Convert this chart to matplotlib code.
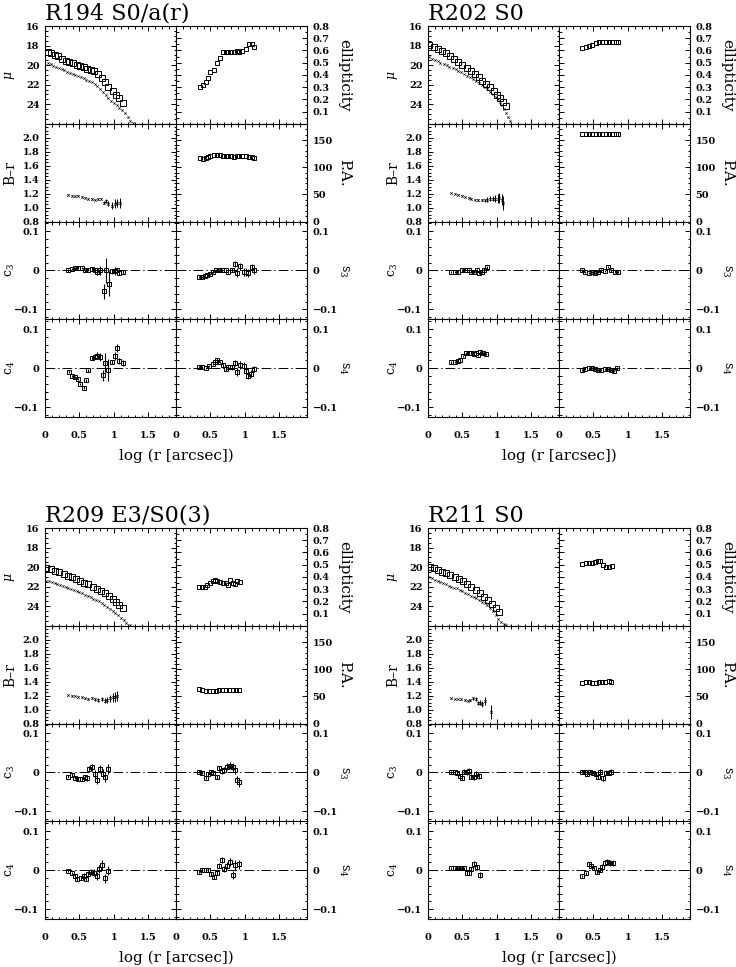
import matplotlib
matplotlib.use("Agg")
import matplotlib.pyplot as plt

plt.rcParams['font.family'] = ['DejaVu Serif']
plt.rcParams['mathtext.fontset'] = 'dejavuserif'
plt.rcParams['axes.linewidth'] = 0.8

FIG_W, FIG_H = 736, 967
PW, PH = 131, 97.75

# ---------------------------------------------------------------- R194
r194_mu_r_x = [0.04, 0.09, 0.14, 0.19, 0.25, 0.30, 0.35, 0.40, 0.46, 0.51, 0.56,
               0.61, 0.66, 0.71, 0.77, 0.82, 0.87, 0.92, 0.98, 1.03, 1.08, 1.135]
r194_mu_r = [18.62, 18.79, 18.94, 19.12, 19.38, 19.56, 19.67, 19.79, 19.94, 20.08, 20.21,
             20.35, 20.48, 20.64, 20.90, 21.27, 21.78, 22.20, 22.62, 23.02, 23.38, 23.86]
r194_mu_b_x = [0.04, 0.08, 0.12, 0.16, 0.20, 0.24, 0.28, 0.32, 0.36, 0.40, 0.44, 0.48, 0.52,
               0.56, 0.60, 0.64, 0.68, 0.72, 0.76, 0.80, 0.84, 0.88, 0.92, 0.96, 1.00, 1.04,
               1.08, 1.12, 1.16, 1.20, 1.24, 1.27]
r194_mu_b = [19.74, 19.92, 20.08, 20.20, 20.30, 20.42, 20.55, 20.68, 20.80, 20.90, 21.01, 21.12, 21.24,
             21.36, 21.51, 21.62, 21.73, 21.90, 22.15, 22.45, 22.78, 23.08, 23.35, 23.65, 23.88, 24.12,
             24.35, 24.62, 24.95, 25.35, 25.70, 25.97]
r194_iso_x = [0.35, 0.39, 0.43, 0.47, 0.50, 0.55, 0.59, 0.64, 0.68, 0.72,
              0.76, 0.80, 0.84, 0.88, 0.92, 0.96, 1.01, 1.06, 1.10, 1.135]
r194_ell = [0.302, 0.32, 0.339, 0.374, 0.42, 0.439, 0.496, 0.541, 0.59, 0.59,
            0.59, 0.59, 0.59, 0.592, 0.59, 0.595, 0.611, 0.649, 0.649, 0.63]
r194_pa = [116.3, 115.1, 116.9, 119.4, 121.2, 121.8, 121.8, 121.8, 121.2, 120.6,
           120.0, 120.0, 119.4, 120.0, 120.0, 120.0, 120.0, 119.4, 118.8, 117.6]
r194_br_x = [0.34, 0.39, 0.44, 0.48, 0.53, 0.58, 0.63, 0.68, 0.73, 0.77, 0.81, 0.85, 0.88,
             0.92, 0.97, 1.01, 1.05, 1.09]
r194_br = [1.186, 1.171, 1.162, 1.171, 1.152, 1.138, 1.129, 1.124, 1.114, 1.124, 1.129, 1.067, 1.09,
           1.057, 1.029, 1.057, 1.067, 1.07]
r194_br_err = [0.008, 0.008, 0.008, 0.008, 0.008, 0.008, 0.008, 0.01, 0.01, 0.01, 0.012, 0.02, 0.03,
               0.04, 0.05, 0.06, 0.06, 0.07]
r194_c3_x = [0.34, 0.39, 0.44, 0.48, 0.53, 0.58, 0.63, 0.68, 0.73, 0.76, 0.80, 0.85, 0.88,
             0.93, 0.97, 1.01, 1.05, 1.07, 1.13]
r194_c3 = [0.0, 0.003, 0.005, 0.007, 0.006, 0.0, 0.002, 0.004, 0.0, -0.003, 0.0, -0.054, 0.0,
           -0.034, -0.002, -0.002, 0.0, -0.006, -0.004]
r194_c3_err = [0.003, 0.003, 0.003, 0.003, 0.003, 0.003, 0.003, 0.004, 0.005, 0.008, 0.012, 0.018,
               0.032, 0.032, 0.006, 0.01, 0.006, 0.006, 0.006]
r194_s3_x = [0.34, 0.38, 0.42, 0.45, 0.49, 0.54, 0.58, 0.63, 0.67, 0.72, 0.76, 0.81, 0.86,
             0.89, 0.93, 0.98, 1.01, 1.05, 1.10, 1.13]
r194_s3 = [-0.017, -0.017, -0.015, -0.011, -0.009, -0.003, 0.0, 0.0, 0.0, 0.0, -0.003, 0.0, 0.017,
           -0.006, 0.01, -0.004, -0.004, -0.007, 0.009, 0.0]
r194_s3_err = [0.003, 0.003, 0.003, 0.003, 0.003, 0.003, 0.003, 0.003, 0.003, 0.004, 0.004, 0.005,
               0.008, 0.012, 0.01, 0.01, 0.01, 0.01, 0.008, 0.008]
r194_c4_x = [0.35, 0.39, 0.44, 0.48, 0.51, 0.56, 0.59, 0.63, 0.68, 0.73, 0.76, 0.80, 0.84,
             0.87, 0.92, 0.97, 1.01, 1.05, 1.07, 1.13]
r194_c4 = [-0.009, -0.02, -0.022, -0.028, -0.041, -0.05, -0.031, -0.005, 0.025, 0.029, 0.032, 0.029,
           -0.018, 0.014, -0.005, 0.016, 0.032, 0.052, 0.019, 0.014]
r194_c4_err = [0.003, 0.003, 0.003, 0.003, 0.003, 0.004, 0.004, 0.004, 0.005, 0.006, 0.008, 0.01,
               0.014, 0.025, 0.028, 0.006, 0.01, 0.01, 0.008, 0.008]
r194_s4_x = [0.34, 0.38, 0.43, 0.48, 0.53, 0.57, 0.60, 0.64, 0.68, 0.73, 0.76, 0.81, 0.86,
             0.89, 0.93, 0.98, 1.01, 1.05, 1.09, 1.13]
r194_s4 = [0.003, 0.003, 0.001, 0.005, 0.010, 0.016, 0.022, 0.016, 0.008, -0.003, 0.002, 0.002,
           0.014, -0.009, 0.009, 0.006, -0.007, -0.020, -0.014, -0.003]
r194_s4_err = [0.003, 0.003, 0.003, 0.003, 0.003, 0.003, 0.003, 0.003, 0.004, 0.004, 0.005, 0.006,
               0.008, 0.01, 0.01, 0.01, 0.01, 0.008, 0.008, 0.008]

# ---------------------------------------------------------------- R202
r202_mu_r_x = [0.02, 0.08, 0.14, 0.20, 0.26, 0.32, 0.38, 0.44, 0.50, 0.56, 0.62,
               0.68, 0.74, 0.79, 0.84, 0.90, 0.95, 1.00, 1.04, 1.09, 1.13]
r202_mu_r = [17.94, 18.11, 18.31, 18.55, 18.79, 19.06, 19.33, 19.64, 19.95, 20.25, 20.56,
             20.90, 21.24, 21.58, 21.92, 22.29, 22.63, 23.01, 23.38, 23.76, 24.16]
r202_mu_b_x = [0.02, 0.06, 0.10, 0.14, 0.18, 0.23, 0.27, 0.31, 0.36, 0.40, 0.44, 0.48, 0.52,
               0.57, 0.61, 0.65, 0.70, 0.74, 0.78, 0.82, 0.86, 0.90, 0.94, 0.98, 1.01, 1.04,
               1.07, 1.10, 1.13, 1.16, 1.19]
r202_mu_b = [19.20, 19.33, 19.47, 19.60, 19.74, 19.88, 20.01, 20.17, 20.32, 20.45, 20.59, 20.74, 20.90,
             21.07, 21.24, 21.42, 21.61, 21.81, 22.02, 22.24, 22.46, 22.71, 22.97, 23.23, 23.48, 23.77,
             24.06, 24.48, 24.91, 25.33, 25.76]
r202_iso_x = [0.34, 0.39, 0.44, 0.48, 0.53, 0.58, 0.63, 0.68, 0.73, 0.77, 0.82, 0.86]
r202_ell = [0.617, 0.625, 0.638, 0.646, 0.657, 0.665, 0.671, 0.673, 0.673, 0.673, 0.673, 0.673]
r202_pa = [161, 161, 161, 161, 161, 161, 161, 161, 161, 161, 161, 161]
r202_br_x = [0.34, 0.39, 0.44, 0.49, 0.54, 0.59, 0.63, 0.68, 0.73, 0.78, 0.83, 0.86, 0.90,
             0.94, 0.97, 1.01, 1.03, 1.07, 1.09]
r202_br = [1.21, 1.20, 1.186, 1.171, 1.152, 1.138, 1.129, 1.114, 1.11, 1.105, 1.105, 1.114, 1.124,
           1.129, 1.129, 1.129, 1.133, 1.114, 1.06]
r202_br_err = [0.005, 0.005, 0.005, 0.006, 0.006, 0.007, 0.008, 0.01, 0.012, 0.015, 0.02, 0.03, 0.035,
               0.04, 0.05, 0.06, 0.07, 0.08, 0.1]
r202_c3_x = [0.34, 0.39, 0.44, 0.49, 0.54, 0.59, 0.62, 0.66, 0.71, 0.74, 0.78, 0.81, 0.85]
r202_c3 = [-0.004, -0.004, -0.003, 0.0, 0.002, 0.0, -0.004, -0.003, 0.0, -0.006, -0.003, 0.002, 0.008]
r202_c3_err = [0.003, 0.003, 0.003, 0.003, 0.003, 0.003, 0.003, 0.003, 0.003, 0.004, 0.004, 0.004, 0.004]
r202_s3_x = [0.34, 0.38, 0.43, 0.48, 0.52, 0.57, 0.61, 0.66, 0.71, 0.76, 0.81, 0.86]
r202_s3 = [0.0, -0.004, -0.006, -0.004, -0.006, -0.003, 0.0, -0.002, 0.008, 0.0, -0.003, -0.004]
r202_s3_err = [0.003, 0.003, 0.003, 0.003, 0.003, 0.003, 0.003, 0.003, 0.003, 0.003, 0.003, 0.003]
r202_c4_x = [0.34, 0.39, 0.43, 0.46, 0.51, 0.55, 0.59, 0.62, 0.66, 0.70, 0.73, 0.76, 0.80, 0.84]
r202_c4 = [0.0145, 0.016, 0.019, 0.0205, 0.031, 0.0376, 0.039, 0.0376, 0.036, 0.039, 0.033, 0.041,
           0.0376, 0.036]
r202_c4_err = [0.003, 0.003, 0.003, 0.003, 0.003, 0.003, 0.003, 0.003, 0.003, 0.003, 0.003, 0.003,
               0.003, 0.003]
r202_s4_x = [0.34, 0.38, 0.43, 0.48, 0.52, 0.57, 0.61, 0.66, 0.71, 0.76, 0.80, 0.84]
r202_s4 = [-0.005, -0.0026, -0.0009, 0.0009, -0.0026, -0.005, -0.005, -0.0017, -0.0026, -0.005,
           -0.0068, -0.0009]
r202_s4_err = [0.003, 0.003, 0.003, 0.003, 0.003, 0.003, 0.003, 0.003, 0.003, 0.003, 0.003, 0.003]

# ---------------------------------------------------------------- R209
r209_mu_r_x = [0.02, 0.08, 0.15, 0.21, 0.27, 0.33, 0.39, 0.45, 0.51, 0.57, 0.63,
               0.69, 0.75, 0.81, 0.87, 0.93, 0.98, 1.03, 1.08, 1.135]
r209_mu_r = [20.13, 20.23, 20.37, 20.54, 20.71, 20.88, 21.05, 21.22, 21.39, 21.59, 21.76,
             22.00, 22.21, 22.44, 22.68, 22.96, 23.23, 23.54, 23.88, 24.15]
r209_mu_b_x = [0.02, 0.06, 0.10, 0.14, 0.18, 0.22, 0.26, 0.30, 0.34, 0.38, 0.42, 0.46, 0.50,
               0.54, 0.58, 0.62, 0.66, 0.70, 0.74, 0.78, 0.82, 0.86, 0.90, 0.94, 0.98, 1.02,
               1.06, 1.10, 1.14, 1.18, 1.23]
r209_mu_b = [21.39, 21.47, 21.54, 21.64, 21.74, 21.83, 21.93, 22.02, 22.12, 22.23, 22.34, 22.45, 22.59,
             22.70, 22.81, 22.92, 23.05, 23.23, 23.36, 23.50, 23.67, 23.88, 24.08, 24.30, 24.45, 24.68,
             24.91, 25.18, 25.42, 25.69, 25.92]
r209_ell_x = [0.33, 0.37, 0.42, 0.45, 0.49, 0.53, 0.57, 0.60, 0.64, 0.68, 0.72, 0.75, 0.79,
              0.82, 0.86, 0.89, 0.93]
r209_ell = [0.314, 0.314, 0.314, 0.333, 0.353, 0.369, 0.374, 0.369, 0.361, 0.353, 0.347, 0.333, 0.374,
            0.353, 0.342, 0.366, 0.361]
r209_pa_x = [0.33, 0.38, 0.43, 0.48, 0.53, 0.58, 0.62, 0.67, 0.72, 0.77, 0.82, 0.87, 0.91]
r209_pa = [62.9, 61.7, 60.5, 59.9, 60.5, 59.9, 61.1, 61.7, 61.7, 62.3, 62.3, 62.3, 62.3]
r209_br_x = [0.34, 0.39, 0.44, 0.48, 0.53, 0.58, 0.63, 0.68, 0.72, 0.77, 0.82, 0.87, 0.90,
             0.94, 0.98, 1.01, 1.04]
r209_br = [1.208, 1.199, 1.194, 1.184, 1.175, 1.161, 1.151, 1.161, 1.146, 1.137, 1.146, 1.127, 1.137,
           1.161, 1.175, 1.184, 1.194]
r209_br_err = [0.006, 0.006, 0.006, 0.007, 0.008, 0.01, 0.012, 0.015, 0.02, 0.025, 0.03, 0.035, 0.04,
               0.05, 0.06, 0.07, 0.075]
r209_c3_x = [0.34, 0.39, 0.44, 0.48, 0.53, 0.58, 0.61, 0.64, 0.68, 0.73, 0.76, 0.80, 0.84, 0.87, 0.92]
r209_c3 = [-0.011, -0.0066, -0.0135, -0.0177, -0.0177, -0.0126, -0.015, 0.0078, 0.013, -0.004,
           -0.0194, 0.0087, -0.004, -0.0126, 0.0087]
r209_c3_err = [0.004, 0.004, 0.004, 0.005, 0.005, 0.006, 0.007, 0.008, 0.009, 0.01, 0.01, 0.011,
               0.012, 0.012, 0.012]
r209_s3_x = [0.33, 0.38, 0.43, 0.47, 0.51, 0.54, 0.59, 0.63, 0.67, 0.70, 0.74, 0.78, 0.82,
             0.86, 0.89, 0.92]
r209_s3 = [0.0019, -0.0007, -0.0135, -0.004, 0.0019, -0.0007, -0.011, 0.0104, 0.0036, 0.0061,
           0.0147, 0.0164, 0.0147, 0.0061, -0.0194, -0.0254]
r209_s3_err = [0.004, 0.004, 0.004, 0.004, 0.005, 0.005, 0.005, 0.006, 0.007, 0.008, 0.008, 0.009,
               0.01, 0.01, 0.01, 0.012]
r209_c4_x = [0.34, 0.39, 0.44, 0.47, 0.52, 0.56, 0.59, 0.63, 0.67, 0.71, 0.75, 0.79, 0.83, 0.87, 0.92]
r209_c4 = [-0.0015, -0.0083, -0.0142, -0.0236, -0.021, -0.0142, -0.0228, -0.01, -0.004, -0.0066,
           -0.0142, 0.002, 0.013, -0.021, -0.0015]
r209_c4_err = [0.004, 0.004, 0.004, 0.005, 0.005, 0.006, 0.006, 0.007, 0.008, 0.009, 0.01, 0.01,
               0.012, 0.012, 0.012]
r209_s4_x = [0.33, 0.38, 0.43, 0.47, 0.51, 0.55, 0.59, 0.63, 0.67, 0.70, 0.74, 0.78, 0.82, 0.86, 0.91]
r209_s4 = [-0.004, 0.0003, 0.0003, 0.0003, -0.01, -0.0185, -0.0066, 0.0113, 0.0258, 0.002, 0.0113,
           0.0216, -0.0125, 0.013, 0.0147]
r209_s4_err = [0.004, 0.004, 0.004, 0.004, 0.005, 0.005, 0.006, 0.007, 0.008, 0.008, 0.009, 0.01,
               0.01, 0.012, 0.012]

# ---------------------------------------------------------------- R211
r211_mu_r_x = [0.025, 0.083, 0.145, 0.208, 0.266, 0.324, 0.387, 0.445, 0.508, 0.566, 0.628,
               0.691, 0.749, 0.807, 0.87, 0.928, 0.981, 1.029]
r211_mu_r = [20.02, 20.13, 20.30, 20.47, 20.64, 20.81, 20.98, 21.18, 21.42, 21.73, 22.00,
             22.34, 22.68, 23.02, 23.37, 23.77, 24.15, 24.56]
r211_mu_b_x = [0.02, 0.06, 0.10, 0.14, 0.18, 0.22, 0.26, 0.30, 0.34, 0.38, 0.42, 0.46, 0.50,
               0.54, 0.58, 0.62, 0.66, 0.70, 0.74, 0.78, 0.82, 0.86, 0.90, 0.94, 0.98, 1.02,
               1.06, 1.10, 1.13]
r211_mu_b = [21.05, 21.16, 21.27, 21.40, 21.52, 21.66, 21.77, 21.90, 22.00, 22.10, 22.17, 22.30, 22.47,
             22.64, 22.78, 22.92, 23.06, 23.20, 23.36, 23.52, 23.68, 23.90, 24.18, 24.50, 24.95, 25.30,
             25.60, 25.80, 25.95]
r211_ell_x = [0.34, 0.39, 0.435, 0.474, 0.517, 0.565, 0.60, 0.638, 0.681, 0.72, 0.764]
r211_ell = [0.505, 0.511, 0.511, 0.516, 0.519, 0.53, 0.53, 0.497, 0.483, 0.478, 0.489]
r211_pa_x = [0.34, 0.39, 0.43, 0.48, 0.53, 0.58, 0.63, 0.67, 0.72, 0.76]
r211_pa = [75.2, 75.8, 75.8, 75.2, 75.2, 75.8, 76.4, 77.0, 77.7, 77.0]
r211_br_x = [0.34, 0.39, 0.44, 0.48, 0.53, 0.58, 0.61, 0.65, 0.69, 0.73, 0.76, 0.79, 0.82, 0.92]
r211_br = [1.16, 1.151, 1.151, 1.146, 1.137, 1.127, 1.137, 1.16, 1.15, 1.09, 1.10, 1.08, 1.12, 0.97]
r211_br_err = [0.006, 0.006, 0.006, 0.007, 0.008, 0.009, 0.01, 0.02, 0.03, 0.03, 0.04, 0.04, 0.06, 0.1]
r211_c3_x = [0.34, 0.39, 0.42, 0.46, 0.49, 0.52, 0.56, 0.60, 0.63, 0.67, 0.70, 0.74]
r211_c3 = [0.0, 0.0, -0.0024, -0.0092, -0.0135, 0.0019, 0.0, 0.0036, -0.011, -0.011, -0.004, -0.0092]
r211_c3_err = [0.003, 0.003, 0.004, 0.005, 0.006, 0.006, 0.006, 0.007, 0.007, 0.008, 0.008, 0.008]
r211_s3_x = [0.34, 0.37, 0.41, 0.45, 0.49, 0.53, 0.57, 0.60, 0.64, 0.68, 0.72, 0.75]
r211_s3 = [0.0019, 0.0019, -0.005, 0.0019, -0.0007, -0.005, -0.011, 0.0019, -0.015, -0.0007,
           -0.0007, 0.001]
r211_s3_err = [0.003, 0.003, 0.003, 0.004, 0.004, 0.005, 0.005, 0.006, 0.006, 0.007, 0.007, 0.007]
r211_c4_x = [0.34, 0.39, 0.44, 0.48, 0.52, 0.56, 0.60, 0.63, 0.67, 0.71, 0.75]
r211_c4 = [0.0045, 0.0045, 0.0045, 0.0045, 0.0045, -0.0066, -0.0083, 0.002, 0.0156, 0.0071, -0.0125]
r211_c4_err = [0.003, 0.003, 0.003, 0.003, 0.004, 0.005, 0.005, 0.006, 0.007, 0.007, 0.008]
r211_s4_x = [0.34, 0.39, 0.43, 0.47, 0.51, 0.55, 0.59, 0.62, 0.66, 0.70, 0.74, 0.78]
r211_s4 = [-0.0142, -0.0083, 0.0156, 0.0113, 0.0045, -0.004, 0.0003, 0.0088, 0.0173, 0.0216,
           0.0173, 0.0173]
r211_s4_err = [0.003, 0.003, 0.004, 0.005, 0.005, 0.005, 0.006, 0.006, 0.007, 0.007, 0.008, 0.008]

GALAXIES = [
    dict(name='R194 S0/a(r)', left=45, top=26,
         mu=(r194_mu_r_x, r194_mu_r, r194_mu_b_x, r194_mu_b),
         br=(r194_br_x, r194_br, r194_br_err),
         ell=(r194_iso_x, r194_ell), pa=(r194_iso_x, r194_pa),
         c3=(r194_c3_x, r194_c3, r194_c3_err), s3=(r194_s3_x, r194_s3, r194_s3_err),
         c4=(r194_c4_x, r194_c4, r194_c4_err), s4=(r194_s4_x, r194_s4, r194_s4_err)),
    dict(name='R202 S0', left=428, top=26,
         mu=(r202_mu_r_x, r202_mu_r, r202_mu_b_x, r202_mu_b),
         br=(r202_br_x, r202_br, r202_br_err),
         ell=(r202_iso_x, r202_ell), pa=(r202_iso_x, r202_pa),
         c3=(r202_c3_x, r202_c3, r202_c3_err), s3=(r202_s3_x, r202_s3, r202_s3_err),
         c4=(r202_c4_x, r202_c4, r202_c4_err), s4=(r202_s4_x, r202_s4, r202_s4_err)),
    dict(name='R209 E3/S0(3)', left=45, top=528,
         mu=(r209_mu_r_x, r209_mu_r, r209_mu_b_x, r209_mu_b),
         br=(r209_br_x, r209_br, r209_br_err),
         ell=(r209_ell_x, r209_ell), pa=(r209_pa_x, r209_pa),
         c3=(r209_c3_x, r209_c3, r209_c3_err), s3=(r209_s3_x, r209_s3, r209_s3_err),
         c4=(r209_c4_x, r209_c4, r209_c4_err), s4=(r209_s4_x, r209_s4, r209_s4_err)),
    dict(name='R211 S0', left=428, top=528,
         mu=(r211_mu_r_x, r211_mu_r, r211_mu_b_x, r211_mu_b),
         br=(r211_br_x, r211_br, r211_br_err),
         ell=(r211_ell_x, r211_ell), pa=(r211_pa_x, r211_pa),
         c3=(r211_c3_x, r211_c3, r211_c3_err), s3=(r211_s3_x, r211_s3, r211_s3_err),
         c4=(r211_c4_x, r211_c4, r211_c4_err), s4=(r211_s4_x, r211_s4, r211_s4_err)),
]

# (ylim, major ticks, tick labels, minor step) for each row, left / right column
LEFT_ROWS = [
    ((26, 16), [16, 18, 20, 22, 24], ['16', '18', '20', '22', '24'], 0.5),
    ((0.8, 2.2), [0.8, 1.0, 1.2, 1.4, 1.6, 1.8, 2.0],
     ['0.8', '1.0', '1.2', '1.4', '1.6', '1.8', '2.0'], 0.05),
    ((-0.125, 0.125), [-0.1, 0, 0.1], ['\u22120.1', '0', '0.1'], 0.02),
    ((-0.125, 0.125), [-0.1, 0, 0.1], ['\u22120.1', '0', '0.1'], 0.02),
]
RIGHT_ROWS = [
    ((0, 0.8), [0.1, 0.2, 0.3, 0.4, 0.5, 0.6, 0.7, 0.8],
     ['0.1', '0.2', '0.3', '0.4', '0.5', '0.6', '0.7', '0.8'], 0.05),
    ((0, 180), [0, 50, 100, 150], ['0', '50', '100', '150'], 10),
    ((-0.125, 0.125), [-0.1, 0, 0.1], ['\u22120.1', '0', '0.1'], 0.02),
    ((-0.125, 0.125), [-0.1, 0, 0.1], ['\u22120.1', '0', '0.1'], 0.02),
]
LEFT_LABELS = [(r'$\mu$', 9), ('B\u2013r', 10), (r'$\mathrm{c}_3$', 9), (r'$\mathrm{c}_4$', 9)]
RIGHT_LABELS = [('ellipticity', 11), ('P.A.', 11), (r'$\mathrm{s}_3$', 9), (r'$\mathrm{s}_4$', 9)]


def fig_xy(x, y):
    """Pixel position (from top left) to figure fraction."""
    return x / FIG_W, 1 - y / FIG_H


def make_panel(fig, left, top, spec, right_side, bottom_row):
    """Create one panel with inward ticks on all four sides."""
    ylim, ticks, labels, minor = spec
    ax = fig.add_axes([left / FIG_W, 1 - (top + PH) / FIG_H, PW / FIG_W, PH / FIG_H])
    ax.set_xlim(0, 1.9)
    ax.set_ylim(*ylim)
    ax.set_xticks([0, 0.5, 1.0, 1.5])
    ax.set_xticklabels(['0', '0.5', '1', '1.5'], fontweight='bold')
    ax.xaxis.set_minor_locator(plt.MultipleLocator(0.1))
    ax.set_yticks(ticks)
    ax.set_yticklabels(labels, fontweight='bold')
    ax.yaxis.set_minor_locator(plt.MultipleLocator(minor))
    ax.tick_params(which='both', direction='in', top=True, bottom=True, left=True, right=True,
                   width=0.7, labelsize=7, pad=4)
    ax.tick_params(which='major', length=3.6)
    ax.tick_params(which='minor', length=1.8)
    ax.tick_params(axis='x', pad=10, labelbottom=bottom_row)
    ax.tick_params(axis='y', labelleft=not right_side, labelright=right_side)
    return ax


def draw_squares(ax, x, y, err=None):
    ax.errorbar(x, y, yerr=err, fmt='s', ms=3.3, mfc='none', mec='black', mew=0.7,
                ecolor='black', elinewidth=0.8, capsize=0)


def draw_galaxy(fig, g):
    """Draw the 4x2 block of panels for one galaxy."""
    left, top = g['left'], g['top']
    axes_l, axes_r = [], []
    for i in range(4):
        row_top = top + i * PH
        axes_l.append(make_panel(fig, left, row_top, LEFT_ROWS[i], False, i == 3))
        axes_r.append(make_panel(fig, left + PW, row_top, RIGHT_ROWS[i], True, i == 3))

        lab, fs = LEFT_LABELS[i]
        fig.text(*fig_xy(left - 35, row_top + PH / 2), lab, rotation=90, fontsize=fs,
                 ha='center', va='center')
        lab, fs = RIGHT_LABELS[i]
        fig.text(*fig_xy(left + 2 * PW + 37, row_top + PH / 2), lab, rotation=-90, fontsize=fs,
                 ha='center', va='center')

    mx_r, mu_r, mx_b, mu_b = g['mu']
    axes_l[0].plot(mx_r, mu_r, 's', ms=3.8, mfc='none', mec='black', mew=0.7)
    axes_l[0].plot(mx_b, mu_b, 'x', ms=1.6, mew=0.5, color='black')

    bx, bval, berr = g['br']
    axes_l[1].errorbar(bx, bval, yerr=berr, fmt='x', ms=1.8, mew=0.5, color='black',
                       elinewidth=0.7, capsize=0)

    draw_squares(axes_r[0], *g['ell'])
    draw_squares(axes_r[1], *g['pa'])

    for ax, key in [(axes_l[2], 'c3'), (axes_r[2], 's3'), (axes_l[3], 'c4'), (axes_r[3], 's4')]:
        ax.axhline(0, color='black', lw=0.7, dashes=(10, 3, 1.5, 3))
        draw_squares(ax, *g[key])

    fig.text(*fig_xy(left, top - 6.5), g['name'], fontsize=16, ha='left', va='baseline')
    fig.text(*fig_xy(left + PW, top + 4 * PH + 39), 'log (r [arcsec])', fontsize=11,
             ha='center', va='center')


fig = plt.figure(figsize=(FIG_W / 100, FIG_H / 100), dpi=100)
for g in GALAXIES:
    draw_galaxy(fig, g)
fig.savefig('out.png', dpi=100)
